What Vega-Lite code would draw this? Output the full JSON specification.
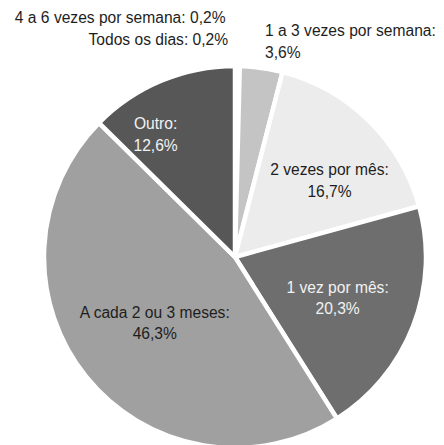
{
  "$schema": "https://vega.github.io/schema/vega-lite/v6.json",
  "width": 470,
  "height": 514,
  "autosize": {"type": "none"},
  "padding": 0,
  "background": "#ffffff",
  "view": {"stroke": null},
  "config": {"text": {"font": "Liberation Sans", "fontSize": 15.6, "lineBreak": "\n", "lineHeight": 21.5}},
  "data": {"values": [
    {"cat": "4 a 6 vezes por semana", "v": 0.2, "o": 1, "label": "4 a 6 vezes por semana: 0,2%"},
    {"cat": "Todos os dias", "v": 0.2, "o": 2, "label": "Todos os dias: 0,2%"},
    {"cat": "1 a 3 vezes por semana", "v": 3.6, "o": 3, "label": "1 a 3 vezes por semana:\n3,6%"},
    {"cat": "2 vezes por mês", "v": 16.7, "o": 4, "label": "2 vezes por mês:\n16,7%"},
    {"cat": "1 vez por mês", "v": 20.3, "o": 5, "label": "1 vez por mês:\n20,3%"},
    {"cat": "A cada 2 ou 3 meses", "v": 46.3, "o": 6, "label": "A cada 2 ou 3 meses:\n46,3%"},
    {"cat": "Outro", "v": 12.6, "o": 7, "label": "Outro:\n12,6%"}
  ]},
  "encoding": {
    "theta": {"field": "v", "type": "quantitative", "stack": true},
    "order": {"field": "o", "type": "quantitative"}
  },
  "layer": [
    {
      "mark": {"type": "arc", "outerRadius": 191, "stroke": "#ffffff", "strokeWidth": 4.5},
      "encoding": {
        "color": {"field": "cat", "type": "nominal", "legend": null,
          "scale": {"domain": ["4 a 6 vezes por semana", "Todos os dias", "1 a 3 vezes por semana", "2 vezes por mês", "1 vez por mês", "A cada 2 ou 3 meses", "Outro"],
                    "range": ["#888888", "#bbbbbb", "#c4c4c4", "#ececec", "#6e6e6e", "#a0a0a0", "#575757"]}}
      }
    },
    {
      "mark": {"type": "text", "radius": 148, "thetaOffset": -0.17, "dy": -8, "align": "center", "baseline": "middle", "color": "#f2f2f2"},
      "encoding": {"text": {"condition": {"test": "datum.cat === 'Outro'", "field": "label"}, "value": ""}}
    },
    {
      "mark": {"type": "text", "radius": 123, "thetaOffset": 0.1, "dy": -8, "align": "center", "baseline": "middle", "color": "#1e1e1e"},
      "encoding": {"text": {"condition": {"test": "datum.cat === '2 vezes por mês'", "field": "label"}, "value": ""}}
    },
    {
      "mark": {"type": "text", "radius": 110, "dy": -9, "align": "center", "baseline": "middle", "color": "#f2f2f2"},
      "encoding": {"text": {"condition": {"test": "datum.cat === '1 vez por mês'", "field": "label"}, "value": ""}}
    },
    {
      "mark": {"type": "text", "radius": 103, "dy": -9, "align": "center", "baseline": "middle", "color": "#1e1e1e"},
      "encoding": {"text": {"condition": {"test": "datum.cat === 'A cada 2 ou 3 meses'", "field": "label"}, "value": ""}}
    },
    {
      "mark": {"type": "text", "radius": 218, "dy": -10, "align": "left", "baseline": "middle", "color": "#1e1e1e"},
      "encoding": {"text": {"condition": {"test": "datum.cat === '1 a 3 vezes por semana'", "field": "label"}, "value": ""}}
    },
    {
      "mark": {"type": "text", "radius": 239, "align": "right", "baseline": "middle", "dx": -11, "color": "#1e1e1e"},
      "encoding": {"text": {"condition": {"test": "datum.cat === '4 a 6 vezes por semana'", "field": "label"}, "value": ""}}
    },
    {
      "mark": {"type": "text", "radius": 217, "align": "right", "baseline": "middle", "dx": -11, "color": "#1e1e1e"},
      "encoding": {"text": {"condition": {"test": "datum.cat === 'Todos os dias'", "field": "label"}, "value": ""}}
    }
  ]
}
